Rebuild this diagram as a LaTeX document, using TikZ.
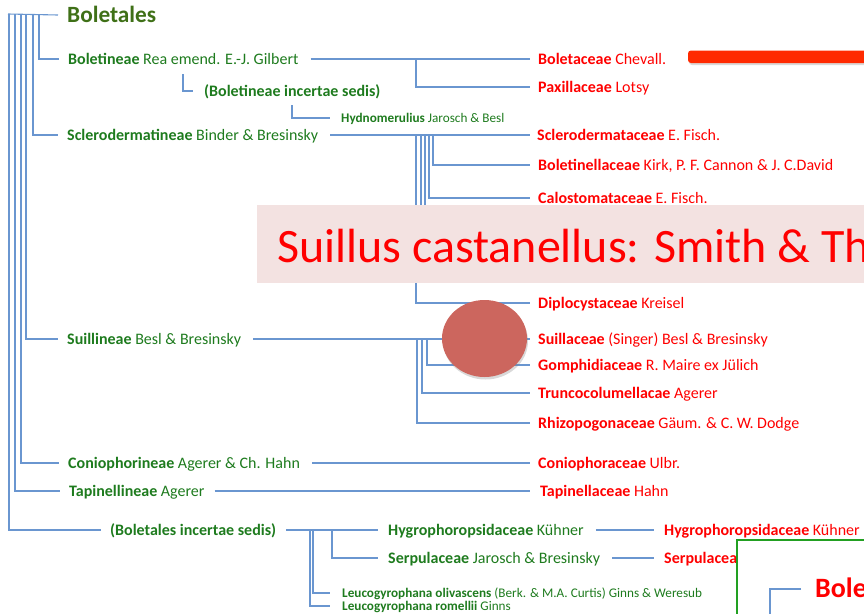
\documentclass[tikz,border=0pt]{standalone}
\usepackage{fontspec}
\setmainfont{Carlito}
\usepackage{tikz}
\usetikzlibrary{shapes.geometric,shadows}
\definecolor{ordergreen}{HTML}{3F7017}
\definecolor{taxgreen}{HTML}{1E7B1E}
\definecolor{famred}{HTML}{FF0000}
\definecolor{linkblue}{HTML}{6A96D0}
\definecolor{bannerpink}{HTML}{F3E2E1}
\definecolor{blobred}{HTML}{CC665E}
\definecolor{barred}{HTML}{FF2A00}
\definecolor{boxgreen}{HTML}{22A022}
\tikzset{
  taxon/.style={anchor=west,inner sep=0pt,text height=10.1pt,text depth=0pt,font=\fontsize{16}{19}\selectfont,text=taxgreen},
  taxonbold/.style={taxon,font=\bfseries\fontsize{16}{19}\selectfont},
  smalltaxon/.style={anchor=west,inner sep=0pt,text height=8.2pt,text depth=0pt,font=\fontsize{13.2}{15}\selectfont,text=taxgreen},
  family/.style={taxon,text=famred},
  ordertitle/.style={anchor=west,inner sep=0pt,text height=14.7pt,text depth=0pt,font=\bfseries\fontsize{23.3}{27}\selectfont,text=ordergreen},
  branch/.style={draw=linkblue,line width=1.1pt}
}

\begin{document}
\begin{tikzpicture}[x=1pt,y=-1pt]
\useasboundingbox (0,0) rectangle (864,613);
\clip (0,0) rectangle (864,613);
\node[ordertitle] (boletales) at (67,15) {Boletales};
\node[taxon] (boletineae) at (68,59) {\textbf{Boletineae} Rea emend. E.-J. Gilbert};
\node[taxonbold] (boletinc) at (204,91) {(Boletineae incertae sedis)};
\node[smalltaxon] (hydno) at (341,118) {\textbf{Hydnomerulius} Jarosch \& Besl};
\node[taxon] (sclero) at (67,135) {\textbf{Sclerodermatineae} Binder \& Bresinsky};
\node[taxon] (suill) at (67,339) {\textbf{Suillineae} Besl \& Bresinsky};
\node[taxon] (conio) at (68,463) {\textbf{Coniophorineae} Agerer \& Ch. Hahn};
\node[taxon] (tapin) at (69,491) {\textbf{Tapinellineae} Agerer};
\node[taxonbold] (boletalesinc) at (110,530) {(Boletales incertae sedis)};
\node[taxon] (hygro) at (388,530) {\textbf{Hygrophoropsidaceae} Kühner};
\node[taxon] (serpu) at (388,558) {\textbf{Serpulaceae} Jarosch \& Bresinsky};
\node[smalltaxon] (leucoa) at (342,593) {\textbf{Leucogyrophana olivascens} (Berk. \& M.A. Curtis) Ginns \& Weresub};
\node[smalltaxon] (leucob) at (342,606) {\textbf{Leucogyrophana romellii} Ginns};
\node[family] (boletac) at (538,59) {\textbf{Boletaceae} Chevall.};
\node[family] (paxil) at (538,87) {\textbf{Paxillaceae} Lotsy};
\node[family] (sclerac) at (537,135) {\textbf{Sclerodermataceae} E. Fisch.};
\node[family] (boletin) at (538,165) {\textbf{Boletinellaceae} Kirk, P. F. Cannon \& J. C.David};
\node[family] (calost) at (538,198) {\textbf{Calostomataceae} E. Fisch.};
\node[family] (diplo) at (538,303) {\textbf{Diplocystaceae} Kreisel};
\node[family] (suillac) at (538,339) {\textbf{Suillaceae} (Singer) Besl \& Bresinsky};
\node[family] (gomph) at (538,365) {\textbf{Gomphidiaceae} R. Maire ex Jülich};
\node[family] (trunco) at (538,393) {\textbf{Truncocolumellacae} Agerer};
\node[family] (rhizo) at (538,423) {\textbf{Rhizopogonaceae} Gäum. \& C. W. Dodge};
\node[family] (coniac) at (538,463) {\textbf{Coniophoraceae} Ulbr.};
\node[family] (tapinac) at (540,491) {\textbf{Tapinellaceae} Hahn};
\node[family] (hygroac) at (664,530) {\textbf{Hygrophoropsidaceae} Kühner};
\node[family] (serpuac) at (664,558) {\textbf{Serpulaceae}};
\coordinate (root) at (8,14);
\coordinate (bisstem) at (183,74);
\coordinate (hydstem) at (292,105);
\coordinate (hidea) at (530,240);
\coordinate (hideb) at (530,262);
\draw[branch] (root) -- ([xshift=-9pt]boletales.west);
\foreach \dx/\n in {31/boletineae,25/sclero,18/suill,13/conio,7/tapin,1/boletalesinc}
  \draw[branch] ([xshift=\dx pt]root) |- ([xshift=-9pt]\n.west);
\draw[branch] ([xshift=12pt]boletineae.east) -- ([xshift=-8pt]boletac.west);
\draw[branch] ([xshift=-122pt]boletac.west) |- ([xshift=-8pt]paxil.west);
\draw[branch] (bisstem) |- ([xshift=-11pt]boletinc.west);
\draw[branch] (hydstem) |- ([xshift=-11pt]hydno.west);
\draw[branch] ([xshift=12pt]sclero.east) -- ([xshift=-7pt]sclerac.west);
\foreach \dx/\n in {104/boletin,108/calost,121/diplo}
  \draw[branch] ([xshift=-\dx pt]sclerac.west) |- ([xshift=-8pt]\n.west);
\draw[branch] ([xshift=-112pt]sclerac.west) |- (hidea);
\draw[branch] ([xshift=-116pt]sclerac.west) |- (hideb);
\draw[branch] ([xshift=12pt]suill.east) -- ([xshift=-8pt]suillac.west);
\foreach \dx/\n in {111/gomph,116/trunco,121/rhizo}
  \draw[branch] ([xshift=-\dx pt]suillac.west) |- ([xshift=-8pt]\n.west);
\draw[branch] ([xshift=12pt]conio.east) -- ([xshift=-8pt]coniac.west);
\draw[branch] ([xshift=10pt]tapin.east) -- ([xshift=-10pt]tapinac.west);
\draw[branch] ([xshift=10pt]boletalesinc.east) -- ([xshift=-10pt]hygro.west);
\draw[branch] ([xshift=-56pt]hygro.west) |- ([xshift=-10pt]serpu.west);
\draw[branch] ([xshift=-75pt]hygro.west) |- ([xshift=-12pt]leucoa.west);
\draw[branch] ([xshift=-78pt]hygro.west) |- ([xshift=-12pt]leucob.west);
\draw[branch] ([xshift=12pt]hygro.east) -- ([xshift=-10pt]hygroac.west);
\draw[branch] ([xshift=12pt]serpu.east) -- ([xshift=-10pt]serpuac.west);
\fill[bannerpink] (257,205) rectangle (880,283);
\node[anchor=west,inner sep=0pt,text height=30.3pt,text depth=0pt,font=\fontsize{48}{54}\selectfont,text=famred] (banner) at (277,247.5) {Suillus castanellus: Smith \& Thiers};
\node[ellipse,fill=blobred,minimum width=85pt,minimum height=77pt,drop shadow={opacity=0.3,shadow xshift=1pt,shadow yshift=-2.5pt}] (blob) at (484.5,338.5) {};
\fill[barred,rounded corners=3pt,drop shadow={opacity=0.3,shadow xshift=1pt,shadow yshift=-2pt}] (688,50.5) rectangle (880,63);
\draw[boxgreen,line width=1.5pt,fill=white] (737,540) rectangle (880,630);
\node[family,text height=17.7pt,font=\bfseries\fontsize{28}{32}\selectfont] (bole) at (815,589) {Boletales};
\coordinate (boledown) at (770,625);
\draw[branch] ([xshift=-14pt]bole.west) -| (boledown);
\end{tikzpicture}
\end{document}
